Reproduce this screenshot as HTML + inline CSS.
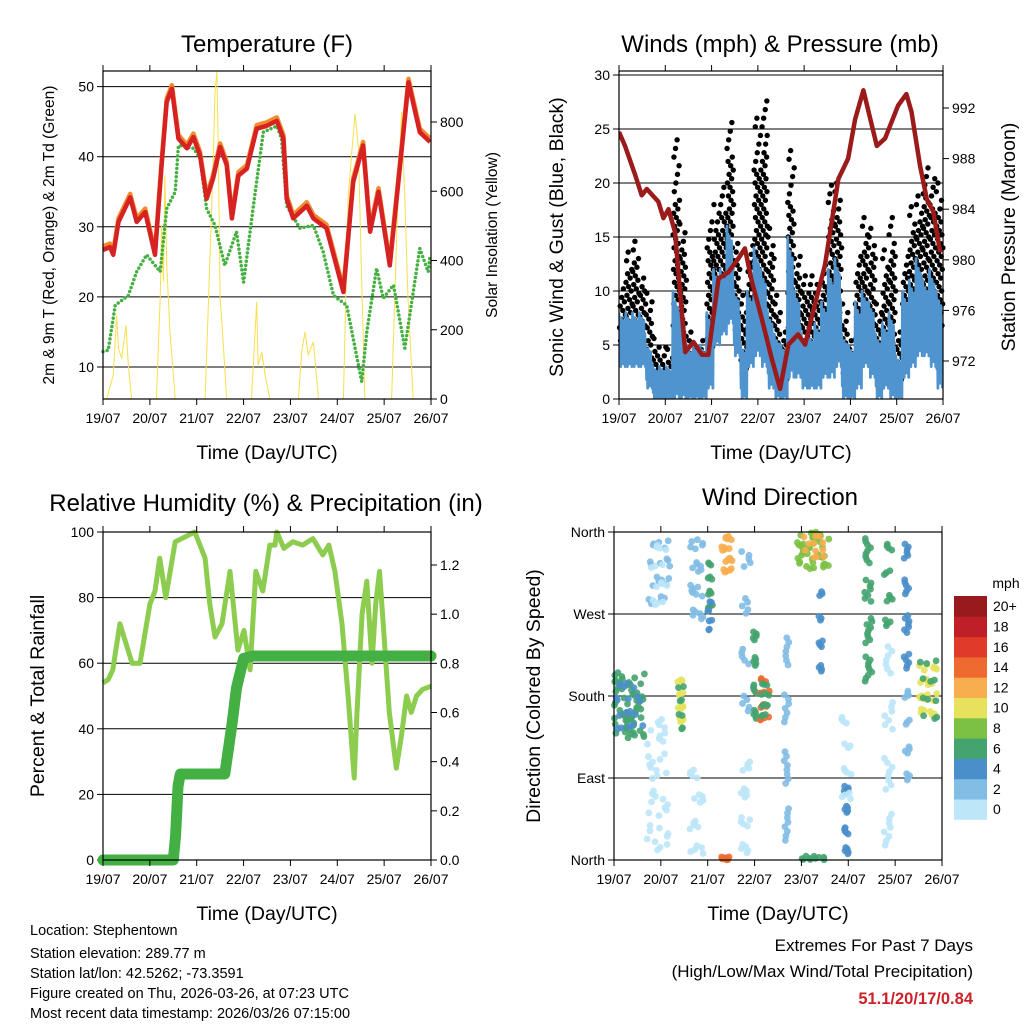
<!DOCTYPE html>
<html><head><meta charset="utf-8"><style>
html,body{margin:0;padding:0;background:#fff;}
svg{display:block;font-family:"Liberation Sans",sans-serif;}
</style></head><body>
<svg id="root" width="1024" height="1024" viewBox="0 0 1024 1024" xmlns="http://www.w3.org/2000/svg"></svg>
<script>
// ---------- Temperature panel data ----------
const tempDays=[0,0.15,0.22,0.33,0.58,0.72,0.9,1.11,1.25,1.36,1.47,1.61,1.79,1.93,2.07,2.21,2.35,2.5,2.64,2.75,2.89,3.07,3.28,3.49,3.71,3.85,3.92,4.06,4.35,4.49,4.77,5.13,5.34,5.55,5.7,5.88,6.12,6.34,6.52,6.76,6.98];
const tempRed=[26.7,27.1,26,30.7,34.2,30.7,32.1,26,38.8,47.8,49.7,42.6,41.2,42.8,40.2,34,36.9,41.4,38.8,31.2,37.3,38.3,44,44.4,45.1,42.6,34,31.2,33,31.2,29.8,20.7,36.4,41.6,29.3,35,24.5,38.8,50.6,43.5,42.1];
const dewDays=[0,0.11,0.26,0.54,0.72,0.93,1.22,1.36,1.54,1.61,1.93,2.07,2.21,2.39,2.6,2.85,3,3.21,3.42,3.71,3.81,3.92,4.2,4.49,4.7,4.92,5.2,5.52,5.63,5.84,5.98,6.2,6.44,6.76,6.94,6.98];
const dewVals=[12.2,12.4,18.8,20.2,23.6,26,23.6,32.6,35,41.6,41.2,39.8,32.6,30.2,24.5,29.3,22.1,33,43.5,44.4,42.6,33,29.8,30.2,26.4,20.2,18.8,7.9,15,24.1,19.8,21.7,12.7,26.9,23.6,26];
const solarDays=[0,0.078,0.22,0.29,0.33,0.4,0.49,0.54,0.61,1.14,1.22,1.25,1.29,1.32,1.36,1.43,1.54,2.18,2.28,2.35,2.39,2.43,2.46,2.5,2.55,2.64,3.17,3.28,3.31,3.39,3.46,3.56,4.17,4.24,4.31,4.38,4.49,4.6,5.13,5.23,5.31,5.38,5.45,5.52,5.59,6.16,6.27,6.37,6.44,6.51,6.62,7];
const solarVals=[0,0,69,242,146,117,213,98,0,0,291,502,339,646,387,194,0,0,396,675,887,945,723,291,194,0,0,281,98,136,69,0,0,136,194,127,165,0,0,579,714,824,723,339,0,0,483,829,579,291,0,0];
const tempTicks=[10,20,30,40,50];
const solarTicks=[0,200,400,600,800];
const dayLabels=["19/07","20/07","21/07","22/07","23/07","24/07","25/07","26/07"];
// ---------- Wind panel data (3.5-hour bins) ----------
const windLo=[3,3,3,3,1,0,0,0,0,0,0,0,0,1,5,6,7,4,0,3,4,3,1,0,0,2,2,1,1,1,2,2,3,0,0,1,3,2,0,1,0,0,2,3,4,4,3,1];
const windHi=[8,8,8,8,5,3,3,3,10,8,5,5,5,8,12,12,16,10,5,10,14,12,8,6,5,15,10,6,6,7,9,12,13,6,5,9,10,9,6,7,8,4,10,11,13,11,12,10];
const gustLo=[5,6,7,6,3,2,2,1,2,3,1,1,1,4,8,8,10,6,2,5,8,8,5,2,1,5,4,3,3,3,4,5,6,2,1,4,6,5,2,3,2,1,4,7,8,9,8,6];
const gustHi=[11,14,15,12,10,6,5,5,24,17,7,5,6,17,18,20,26,15,10,15,26,28,16,10,7,23,14,12,12,11,13,20,20,9,6,14,17,16,9,14,17,7,14,18,19,22,21,20];
const presDays=[0,0.13,0.35,0.49,0.6,0.85,0.96,1.07,1.21,1.43,1.61,1.79,1.93,2.15,2.36,2.58,2.72,2.87,3.08,3.3,3.48,3.66,3.87,4.02,4.16,4.45,4.74,4.95,5.1,5.28,5.57,5.75,5.89,6.03,6.21,6.32,6.5,6.65,6.79,6.94];
const presVals=[990.1,989,986.7,985.1,985.6,984.6,983.3,984,982.2,972.7,973.5,972.5,972.5,978.5,979,980.1,980.9,978.3,975.4,972.2,969.8,973.3,974.1,973.3,975.4,979.6,986.4,988,991.1,993.4,989,989.6,990.9,992.2,993.1,991.7,987.5,984.8,983.8,980.6];
const windTicks=[0,5,10,15,20,25,30];
const presTicks=[972,976,980,984,988,992];
// ---------- RH / rain data ----------
const rhDays=[0,0.11,0.21,0.36,0.62,0.79,1.0,1.11,1.21,1.34,1.54,1.96,2.18,2.28,2.39,2.54,2.71,2.88,3.01,3.14,3.26,3.41,3.56,3.67,3.71,3.86,4.05,4.26,4.48,4.69,4.82,4.95,5.1,5.23,5.36,5.42,5.53,5.63,5.74,5.82,5.9,5.99,6.11,6.26,6.37,6.48,6.58,6.69,6.82,7];
const rhVals=[54,55,58,72,60,60,78,82,92,80,97,100,92,78,68,72,88,64,70,58,88,82,96,96,100,95,97,96,98,93,96,88,72,50,25,45,75,85,60,78,88,70,45,28,38,50,45,50,52,53];
const rainDays=[0,1.5,1.55,1.6,1.65,2.6,2.75,2.85,3.0,3.2,7];
const rainVals=[0,0,0.1,0.3,0.35,0.35,0.55,0.7,0.82,0.83,0.83];
const rhTicks=[0,20,40,60,80,100];
const rainTicks=[0.0,0.2,0.4,0.6,0.8,1.0,1.2];
// ---------- Wind direction clusters ----------
const clDay=[0.34,0.34,0.95,0.95,0.95,1.41,1.41,1.76,1.76,2.05,2.05,2.4,2.4,2.81,2.81,3.0,3.22,3.22,3.68,4.25,4.25,4.41,4.96,4.96,5.43,5.85,5.85,6.25,6.25,6.71,6.71,4.25];
const clSpread=[0.33,0.3,0.25,0.2,0.25,0.07,0.08,0.15,0.15,0.05,0.05,0.12,0.12,0.1,0.1,0.04,0.1,0.1,0.05,0.35,0.25,0.04,0.05,0.1,0.08,0.1,0.1,0.06,0.06,0.2,0.2,0.25];
const clDirLo=[133,140,276,275,1,148,140,258,0,272,250,313,0,0,150,148,150,155,5,317,330,200,1,60,185,0,250,200,80,155,150,0];
const clDirHi=[206,200,357,355,155,206,200,360,110,335,290,360,4,120,360,262,206,200,260,360,360,310,90,170,357,250,360,360,200,220,230,5];
const clSpeed=[6,4,2,0,1,10,6,2,1,6,4,13,14,1,2,6,14,6,3,8,13,4,4,1,7,1,6,5,3,11,7,6];
const clCount=[60,20,25,15,40,14,8,25,20,14,8,20,8,20,20,20,16,12,30,40,12,14,20,15,35,30,15,25,15,25,12,10];
const speedLabels=["0","2","4","6","8","10","12","14","16","18","20+"];
const speedColors=["#bde6f8","#82bde6","#4a8fca","#45a36f","#7cc144","#e6e25c","#f8ad4e","#ef6a31","#e03a2a","#bf1f26","#981a1d"];
const dirTicks=[0,90,180,270,360];
const dirLabels=["North","East","South","West","North"];

const NS="http://www.w3.org/2000/svg";
const root=document.getElementById('root');
function mk(tag,attrs,parent){const e=document.createElementNS(NS,tag);for(const k in attrs)e.setAttribute(k,attrs[k]);(parent||root).appendChild(e);return e;}
function txt(s,x,y,size,anchor,parent,extra){const t=mk('text',Object.assign({x:x,y:y,'font-size':size,'text-anchor':anchor||'middle',fill:'#000'},extra||{}),parent);t.textContent=s;return t;}
function lin(a,b,c,d){return v=>c+(v-a)*(d-c)/(b-a);}
function pathFrom(xs,ys,fx,fy){return xs.map((x,i)=>(i?'L':'M')+fx(x).toFixed(1)+' '+fy(ys[i]).toFixed(1)).join(' ');}

function panelFrame(g,L,T,R,B){
  const f=mk('rect',{x:L,y:T,width:R-L,height:B-T,fill:'none',stroke:'#000','stroke-width':1.2},g);
  
  
  const fx=lin(0,7,L,R);
  for(let i=0;i<=7;i++){
    mk('line',{x1:fx(i),x2:fx(i),y1:B,y2:B+6,stroke:'#000'},g);
    mk('line',{x1:fx(i),x2:fx(i),y1:T,y2:T-6,stroke:'#000'},g);
    const t=txt(dayLabels[i],fx(i),B+24,14,'middle',g);
    
    
  }
  const xt=txt('Time (Day/UTC)',(L+R)/2,B+60,19.5,'middle',g);
  
  
  return fx;
}
function yTicks(g,ticks,fy,x,side,labels,fmt,grid,L,R,size){
  ticks.forEach((v,i)=>{
    const y=fy(v);
    if(grid) mk('line',{x1:L,x2:R,y1:y,y2:y,stroke:'#000','stroke-width':1},g);
    mk('line',{x1:x,x2:x+(side<0?-6:6),y1:y,y2:y,stroke:'#000'},g);
    const t=txt(labels?labels[i]:fmt(v),x+(side<0?-9:9),y+5,size||14,side<0?'end':'start',g);
    
    
  });
}
function vTitle(g,s,x,y,size,name){const t=txt(s,x,y,size,'middle',g,{transform:`rotate(-90 ${x} ${y})`});}

// ===== Panel 1: Temperature =====
{
const g=mk('g',{});


const L=103,T=71,R=431,B=399;
const fy=lin(10,50,367,86.6), fs=lin(0,800,399,122);
const fx=lin(0,7,L,R);
const t=txt('Temperature (F)',267,52,24,'middle',g);


yTicks(g,tempTicks,fy,L,-1,null,v=>v,true,L,R);
yTicks(g,solarTicks,fs,R,1,null,v=>v,false,L,R);
const clip=mk('clipPath',{id:'c1'},g);mk('rect',{x:L,y:T,width:R-L,height:B-T},clip);
const sol=mk('path',{d:pathFrom(solarDays,solarVals,fx,fs),fill:'none',stroke:'#f9df4a','stroke-width':1,'clip-path':'url(#c1)'},g);


const dew=mk('path',{d:pathFrom(dewDays,dewVals,fx,fy),fill:'none',stroke:'#45b041','stroke-width':3.5,'stroke-dasharray':'0 4.2','stroke-linecap':'round'},g);


const or=mk('path',{d:pathFrom(tempDays,tempRed.map(v=>v+0.5),fx,fy),fill:'none',stroke:'#f28a2e','stroke-width':4.5,'stroke-linejoin':'round'},g);


const rd=mk('path',{d:pathFrom(tempDays,tempRed,fx,fy),fill:'none',stroke:'#d62222','stroke-width':4.5,'stroke-linejoin':'round'},g);


panelFrame(g,L,T,R,B);
vTitle(g,'2m & 9m T (Red, Orange) & 2m Td (Green)',54,235,15.5,'left-y-axis-title');
vTitle(g,'Solar Insolation (Yellow)',497,235,15.5,'right-y-axis-title');
}
// ===== Panel 2: Winds =====
{
const g=mk('g',{});


const L=619,T=71,R=943,B=399;
const fy=lin(0,30,399,75), fp=lin(972,992,361,108);
const fx=lin(0,7,L,R);
const t=txt('Winds (mph) & Pressure (mb)',780,52,24,'middle',g);


yTicks(g,windTicks,fy,L,-1,null,v=>v,true,L,R);
yTicks(g,presTicks,fp,R,1,null,v=>v,false,L,R);
const bw=7/windLo.length;
const clip=mk('clipPath',{id:'c2'},g);mk('rect',{x:L,y:T,width:R-L,height:B-T},clip);
windLo.forEach((lo,i)=>{
  const gl=gustLo[i],gh=gustHi[i],t0=i*bw;
  let k=0;
  for(let v=gl;v<=gh;v+=0.4){
    k++;
    const frac=(k*0.618034)%1;
    const dens=(v-gl)/Math.max(1,gh-gl);
    if(dens>0.75 && k%2!==0) continue;
    const c=mk('circle',{cx:fx(t0+frac*bw),cy:fy(v),r:2.7,fill:'#000'},g);
    
    
  }
});
const pat=[1,0.2,0.7,0,0.9,0.35,0.55,0.05,0.85,0.15,0.6,0];
let pts=[];
windLo.forEach((lo,i)=>{const hi=windHi[i],t0=i*bw;for(let k=0;k<12;k++){const tt=t0+k*bw/12;pts.push(fx(tt).toFixed(1)+','+fy(lo+(hi-lo)*pat[k]).toFixed(1));}});
const wl=mk('polyline',{points:pts.join(' '),fill:'none',stroke:'#4f94cf','stroke-width':2.8,'stroke-linejoin':'round','clip-path':'url(#c2)'},g);


const pl=mk('path',{d:pathFrom(presDays,presVals,fx,fp),fill:'none',stroke:'#9b1b1b','stroke-width':4.5,'stroke-linejoin':'round','clip-path':'url(#c2)'},g);


panelFrame(g,L,T,R,B);
vTitle(g,'Sonic Wind & Gust (Blue, Black)',563,237,19.5,'left-y-axis-title');
vTitle(g,'Station Pressure (Maroon)',1015,237,19.5,'right-y-axis-title');
}
// ===== Panel 3: RH =====
{
const g=mk('g',{});


const L=103,T=532,R=431,B=860;
const fy=lin(0,100,860,532), fr=lin(0,1.2,860,565);
const fx=lin(0,7,L,R);
const t=txt('Relative Humidity (%) & Precipitation (in)',266,511,24,'middle',g);


yTicks(g,rhTicks,fy,L,-1,null,v=>v,true,L,R);
yTicks(g,rainTicks,fr,R,1,null,v=>v.toFixed(1),false,L,R);
const rh=mk('path',{d:pathFrom(rhDays,rhVals,fx,fy),fill:'none',stroke:'#8ccc4e','stroke-width':5,'stroke-linejoin':'round'},g);


const rn=mk('path',{d:pathFrom(rainDays,rainVals,fx,fr),fill:'none',stroke:'#44b044','stroke-width':11,'stroke-linejoin':'round','stroke-linecap':'round'},g);


panelFrame(g,L,T,R,B);
vTitle(g,'Percent & Total Rainfall',44,696,19.5,'left-y-axis-title');
}
// ===== Panel 4: Wind direction =====
{
const g=mk('g',{});


const L=614,T=532,R=942,B=860;
const fy=lin(0,360,860,532);
const fx=lin(0,7,L,R);
const t=txt('Wind Direction',780,505,24,'middle',g);


yTicks(g,dirTicks,fy,L,-1,dirLabels,null,true,L,R);
function sc(s){return speedColors[Math.min(10,Math.floor(s/2))];}
clDay.forEach((d,i)=>{
  for(let k=0;k<clCount[i];k++){
    const fxr=((k*k*0.3183)+k*0.618034+i*0.13)%1, fyr=(k*0.754877+0.31)%1;
    const day=d+(fxr*2-1)*clSpread[i];
    const dir=clDirLo[i]+fyr*(clDirHi[i]-clDirLo[i]);
    const c=mk('circle',{cx:fx(Math.max(0,Math.min(7,day))),cy:fy(dir),r:3.4,fill:sc(clSpeed[i]),'fill-opacity':0.9},g);
    
    
  }
});
panelFrame(g,L,T,R,B);
vTitle(g,'Direction (Colored By Speed)',540,696,19.5,'left-y-axis-title');
const cb=mk('g',{},g);


const cbTop=596,cbH=20.3;
const u=txt('mph',1006,588,14,'middle',cb);


speedLabels.forEach((s,i)=>{
  const y=cbTop+(10-i)*cbH;
  const r=mk('rect',{x:954,y:y,width:33,height:cbH+0.5,fill:speedColors[i]},cb);
  
  
  const l=txt(s,993,y+cbH/2+5,14,'start',cb);
  
  
});
}
// ===== footer =====
{
const g=mk('g',{});


const lines=["Location: Stephentown","Station elevation: 289.77 m","Station lat/lon: 42.5262; -73.3591","Figure created on Thu, 2026-03-26, at 07:23 UTC","Most recent data timestamp: 2026/03/26 07:15:00"];
const ys=[935,958,978,998,1018];
lines.forEach((s,i)=>{const t=txt(s,30,ys[i],14.5,'start',g);});
const e=mk('g',{});


const a=txt('Extremes For Past 7 Days',973,951,17,'end',e);
const b=txt('(High/Low/Max Wind/Total Precipitation)',973,977,17,'end',e);
const c=txt('51.1/20/17/0.84',973,1004,16.5,'end',e,{fill:'#cc2229','font-weight':'bold'});
}
</script>
</body></html>
